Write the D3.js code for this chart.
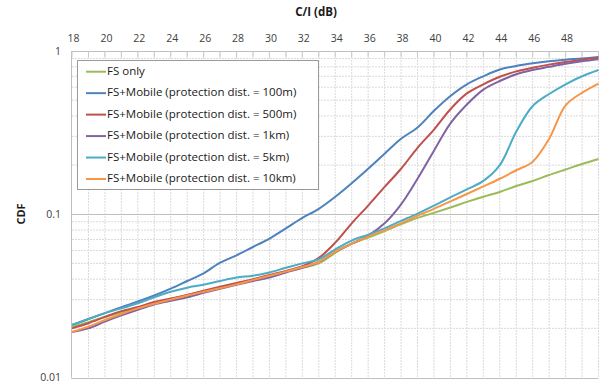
<!DOCTYPE html>
<html><head><meta charset="utf-8">
<script src="https://cdn.jsdelivr.net/npm/d3@7"></script>
<style>body{margin:0;background:#fff;} svg{display:block;}</style>
</head><body>
<svg id="chart" width="602" height="386"></svg>
<script>
// ---- data ----
const ciDb = [18,19,20,21,22,23,24,25,26,27,28,29,30,31,32,33,34,35,36,37,38,39,40,41,42,43,44,45,46,47,48,49,50];
const fsOnly   = [0.0205,0.0218,0.0235,0.025,0.0268,0.0285,0.0302,0.032,0.0338,0.0355,0.0375,0.0395,0.042,0.0445,0.047,0.050,0.058,0.066,0.072,0.079,0.087,0.095,0.102,0.110,0.119,0.128,0.137,0.149,0.160,0.174,0.188,0.203,0.218];
const mob100m  = [0.021,0.0228,0.0248,0.027,0.0292,0.0318,0.035,0.039,0.0435,0.0505,0.056,0.063,0.071,0.082,0.095,0.108,0.128,0.155,0.19,0.235,0.29,0.34,0.43,0.53,0.625,0.70,0.77,0.81,0.84,0.865,0.885,0.90,0.92];
const mob500m  = [0.020,0.0215,0.0235,0.0255,0.027,0.029,0.0305,0.032,0.034,0.036,0.038,0.040,0.0425,0.045,0.048,0.054,0.067,0.088,0.113,0.147,0.19,0.255,0.33,0.44,0.55,0.625,0.695,0.75,0.79,0.825,0.855,0.885,0.91];
const mob1km   = [0.019,0.020,0.022,0.024,0.026,0.028,0.0295,0.031,0.033,0.035,0.037,0.039,0.041,0.044,0.047,0.051,0.059,0.066,0.074,0.088,0.115,0.165,0.245,0.36,0.47,0.58,0.655,0.72,0.765,0.80,0.835,0.865,0.89];
const mob5km   = [0.021,0.0228,0.0248,0.0265,0.0285,0.031,0.0335,0.0355,0.037,0.039,0.041,0.042,0.044,0.047,0.050,0.053,0.061,0.069,0.075,0.082,0.091,0.101,0.113,0.127,0.142,0.160,0.20,0.32,0.46,0.545,0.625,0.70,0.765];
const mob10km  = [0.019,0.0205,0.0225,0.0245,0.0265,0.0283,0.030,0.0318,0.0335,0.0352,0.0372,0.0395,0.042,0.0445,0.0475,0.051,0.059,0.066,0.073,0.080,0.088,0.098,0.108,0.120,0.133,0.148,0.165,0.186,0.21,0.29,0.465,0.555,0.632];
const seriesNames = ["FS only","FS+Mobile (protection dist. = 100m)","FS+Mobile (protection dist. = 500m)","FS+Mobile (protection dist. = 1km)","FS+Mobile (protection dist. = 5km)","FS+Mobile (protection dist. = 10km)"];
const seriesColors = ["#9BBB59","#4F81BD","#C0504D","#8064A2","#4BACC6","#F79646"];
const xTickValues = [18,20,22,24,26,28,30,32,34,36,38,40,42,44,46,48];
const yTickValues = [0.01,0.1,1];
const yTickLabels = ["0.01","0.1","1"];
const xTitle = "C/I (dB)";
const yTitle = "CDF";

const allSeries = [fsOnly,mob100m,mob500m,mob1km,mob5km,mob10km];

// ---- layout ----
const svg = d3.select("#chart");
const x = d3.scaleLinear().domain([18,50]).range([72,598.5]);
const y = d3.scaleLog().domain([0.01,1]).range([377.5,51]);
const gridColor = "#dadada";
const font = "'Open Sans', Arial, sans-serif";

// minor vertical grid (every 1 dB)
const vGrid = d3.range(19,51);
svg.append("g").selectAll("line").data(vGrid).join("line")
  .attr("x1",d=>x(d)).attr("x2",d=>x(d)).attr("y1",y(1)).attr("y2",y(0.01))
  .attr("stroke",gridColor).attr("stroke-width",1).attr("stroke-dasharray","2,1");

// minor horizontal grid
const hMinor = [];
[0.01,0.1].forEach(b=>{for(let k=2;k<=9;k++) hMinor.push(b*k);});
svg.append("g").selectAll("line").data(hMinor).join("line")
  .attr("x1",x(18)).attr("x2",x(50)).attr("y1",d=>y(d)).attr("y2",d=>y(d))
  .attr("stroke",gridColor).attr("stroke-width",1).attr("stroke-dasharray","2,1");

// major horizontal grid
svg.append("g").selectAll("line").data(yTickValues).join("line")
  .attr("x1",x(18)-1).attr("x2",x(50)).attr("y1",d=>Math.round(y(d))+0.5).attr("y2",d=>Math.round(y(d))+0.5)
  .attr("stroke","#c0c0c0").attr("stroke-width",1);

// left axis line
svg.append("line").attr("x1",x(18)-0.5).attr("x2",x(18)-0.5).attr("y1",y(1)).attr("y2",y(0.01))
  .attr("stroke","#c0c0c0");

// top ticks
svg.append("g").selectAll("line").data(d3.range(18,51)).join("line")
  .attr("x1",d=>x(d)).attr("x2",d=>x(d)).attr("y1",y(1)).attr("y2",y(1)+6)
  .attr("stroke","#c8c8c8");

// top axis labels
const xAxis = d3.axisTop(x).tickValues(xTickValues).tickSize(0).tickPadding(0).tickFormat(d3.format("d"));
const gx = svg.append("g").attr("transform","translate(1,39)").call(xAxis);
gx.select(".domain").remove();
gx.selectAll("text").attr("font-family",font).attr("font-size","10.5px").attr("fill","#404040").attr("dy","0.32em");

// left axis labels
const yAxis = d3.axisLeft(y).tickValues(yTickValues).tickSize(0).tickPadding(0)
  .tickFormat((d,i)=>yTickLabels[i]);
const gy = svg.append("g").attr("transform","translate(61,0)").call(yAxis);
gy.select(".domain").remove();
gy.selectAll("text").attr("font-family",font).attr("font-size","10.5px").attr("fill","#404040");

// titles
svg.append("text").attr("x",316).attr("y",13).attr("text-anchor","middle").attr("dominant-baseline","middle")
  .attr("font-family",font).attr("font-weight","bold").attr("font-size","11.5px").attr("fill","#1a1a1a").text(xTitle);
svg.append("text").attr("transform","translate(22,214) rotate(-90)").attr("text-anchor","middle").attr("dominant-baseline","middle")
  .attr("font-family",font).attr("font-weight","bold").attr("font-size","11px").attr("fill","#1a1a1a").text(yTitle);

// lines
const line = d3.line().x((d,i)=>x(ciDb[i])).y(d=>y(d)).curve(d3.curveCatmullRom.alpha(0.5));
svg.append("g").selectAll("path").data(allSeries).join("path")
  .attr("d",d=>line(d)).attr("fill","none")
  .attr("stroke",(d,i)=>seriesColors[i]).attr("stroke-width",2).attr("stroke-linejoin","round");

// legend
const lg = svg.append("g");
lg.append("rect").attr("x",77.5).attr("y",60.5).attr("width",241).attr("height",129)
  .attr("fill","#fff").attr("stroke","#9a9a9a").attr("stroke-width",1);
const rowY = d3.scalePoint().domain(d3.range(seriesNames.length)).range([71.7,179]);
const rows = lg.selectAll("g.row").data(seriesNames).join("g").attr("class","row")
  .attr("transform",(d,i)=>`translate(0,${rowY(i)})`);
rows.append("line").attr("x1",86).attr("x2",106).attr("y1",0).attr("y2",0)
  .attr("stroke",(d,i)=>seriesColors[i]).attr("stroke-width",2);
rows.append("text").attr("x",107).attr("y",0).attr("dominant-baseline","middle")
  .attr("font-family",font).attr("font-size","11.5px").attr("fill","#1a1a1a").text(d=>d);
</script>
</body></html>
